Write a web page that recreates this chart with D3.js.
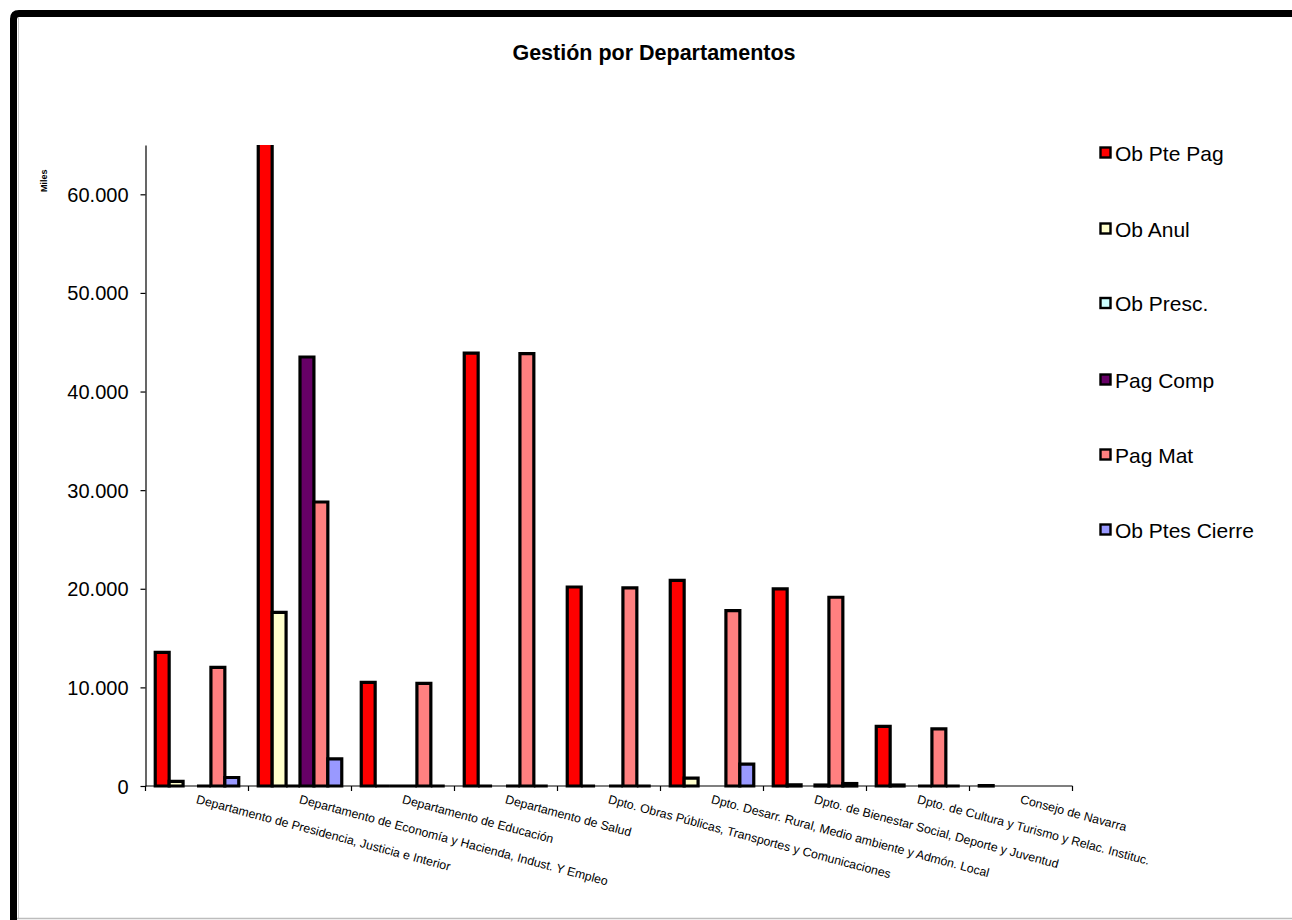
<!DOCTYPE html>
<html><head><meta charset="utf-8">
<script src="https://cdn.jsdelivr.net/npm/d3@7"></script>
<style>
html,body{margin:0;padding:0;background:#fff;}
svg{display:block;font-family:"Liberation Sans",Arial,sans-serif;}
</style></head>
<body><svg id="c" width="1292" height="920"></svg>
<script>
const categories = [
  "Departamento de Presidencia, Justicia e Interior",
  "Departamento de Economía y Hacienda, Indust. Y Empleo",
  "Departamento de Educación",
  "Departamento de Salud",
  "Dpto. Obras Públicas, Transportes y Comunicaciones",
  "Dpto. Desarr. Rural, Medio ambiente y Admón. Local",
  "Dpto. de Bienestar Social, Deporte y Juventud",
  "Dpto. de Cultura y Turismo y Relac. Instituc.",
  "Consejo de Navarra"
];
const seriesNames = ["Ob Pte Pag","Ob Anul","Ob Presc.","Pag Comp","Pag Mat","Ob Ptes Cierre"];
const seriesColors = ["#FF0000","#FFFFCC","#CCFFFF","#660066","#FF8080","#9999FF"];
const obPtePag     = [13550, 72000, 10500, 43900, 20180, 20860, 19980, 6040, 40];
const obAnul       = [460, 17600, 0, 0, 0, 790, 120, 100, null];
const obPresc      = [null, 0, 0, null, null, null, null, null, null];
const pagComp      = [0, 43500, 0, 0, 0, null, 100, 0, null];
const pagMat       = [12030, 28800, 10400, 43850, 20100, 17790, 19140, 5800, null];
const obPtesCierre = [860, 2760, 0, 0, 0, 2210, 250, 0, null];
const tickValues = [0, 10000, 20000, 30000, 40000, 50000, 60000];
const tickLabels = ["0","10.000","20.000","30.000","40.000","50.000","60.000"];
const yMax = 65000;
const chartTitle = "Gestión por Departamentos";
const yTitle = "Miles";

const allSeries = [obPtePag, obAnul, obPresc, pagComp, pagMat, obPtesCierre];

const svg = d3.select("#c");
const pLeft = 145.5, pRight = 1072.5, pTop = 145, pBottom = 786;

// frame
svg.append("path")
  .attr("d", `M13.5,930 V19 Q13.5,13.5 19,13.5 H1300`)
  .attr("fill","none").attr("stroke","#000").attr("stroke-width",7);
svg.append("line").attr("x1",18.5).attr("x2",18.5).attr("y1",17).attr("y2",919)
  .attr("stroke","#c8c8c8").attr("stroke-width",1);
svg.append("line").attr("x1",17).attr("x2",1292).attr("y1",918.5).attr("y2",918.5)
  .attr("stroke","#bdbdbd").attr("stroke-width",1.5);

// title
svg.append("text").attr("x",654).attr("y",60).attr("text-anchor","middle")
  .attr("font-weight","bold").attr("font-size",21.5).text(chartTitle);

const y = d3.scaleLinear().domain([0,yMax]).range([pBottom, pTop]);
const x0 = d3.scaleBand().domain(categories).range([pLeft, pRight]).paddingInner(0).paddingOuter(0);
const x1 = d3.scaleBand().domain(seriesNames).range([0, x0.bandwidth()]).paddingInner(0).paddingOuter(0.7);

svg.append("defs").append("clipPath").attr("id","plotclip")
  .append("rect").attr("x",pLeft-10).attr("y",pTop).attr("width",pRight-pLeft+20).attr("height",pBottom-pTop+10);

const gBars = svg.append("g").attr("clip-path","url(#plotclip)");
categories.forEach((c,i)=>{
  seriesNames.forEach((s,j)=>{
    const v = allSeries[j][i];
    if (v === null || v === undefined) return;
    const bx = x0(c) + x1(s), bw = x1.bandwidth();
    const y0 = y(0), yv = y(v);
    gBars.append("path")
      .attr("d", `M${bx},${y0} V${yv} H${bx+bw} V${y0} Z`)
      .attr("fill", seriesColors[j]).attr("stroke","#000").attr("stroke-width",3.2)
      .attr("stroke-linejoin","miter");
  });
});

// y axis
const yAxis = d3.axisLeft(y).tickValues(tickValues).tickSize(5).tickSizeOuter(0)
  .tickFormat((d,i)=>tickLabels[i]);
const gy = svg.append("g").attr("transform",`translate(${pLeft},0)`).call(yAxis);
gy.select(".domain").attr("stroke","#000").attr("stroke-width",1.2);
gy.selectAll(".tick line").attr("stroke","#000").attr("stroke-width",1.2);
gy.selectAll(".tick text").attr("font-size",20).attr("fill","#000")
  .attr("font-family","Liberation Sans, Arial, sans-serif").attr("x",-17).attr("dy","0.35em");

// y title
svg.append("text").attr("transform","translate(47,192) rotate(-90)")
  .attr("font-size",9).attr("font-weight","bold").text(yTitle);

// x axis
svg.append("line").attr("x1",pLeft).attr("x2",pRight).attr("y1",pBottom).attr("y2",pBottom)
  .attr("stroke","#000").attr("stroke-width",1.2);
const bounds = categories.map(c=>x0(c)).concat([x0(categories[categories.length-1])+x0.bandwidth()]);
svg.selectAll(".xt").data(bounds).enter().append("line")
  .attr("x1",d=>d).attr("x2",d=>d).attr("y1",pBottom).attr("y2",pBottom+5)
  .attr("stroke","#000").attr("stroke-width",1.2);
svg.selectAll(".xl").data(categories).enter().append("text")
  .attr("transform",d=>`translate(${x0(d)+x0.bandwidth()/2+1},${pBottom+8}) rotate(15)`)
  .attr("font-size",12.3).attr("dy","0.75em").attr("text-anchor","start").text(d=>d);

// legend
const legY = [153, 229, 303.5, 380, 455, 530];
seriesNames.forEach((s,j)=>{
  svg.append("rect").attr("x",1100.5).attr("y",legY[j]-5.5).attr("width",10).attr("height",10)
    .attr("fill",seriesColors[j]).attr("stroke","#000").attr("stroke-width",2.4);
  svg.append("text").attr("x",1115).attr("y",legY[j]).attr("dy","0.36em")
    .attr("font-size",21).text(s);
});
</script></body></html>
